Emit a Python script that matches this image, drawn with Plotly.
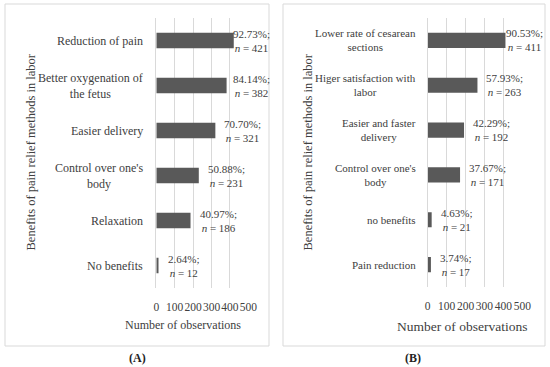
import plotly.graph_objects as go

W, H = 550, 367

# Panel A data (top to bottom)
cats_a = ["Reduction of pain", "Better oxygenation of<br>the fetus", "Easier delivery",
          "Control over one's<br>body", "Relaxation", "No benefits"]
vals_a = [421, 382, 321, 231, 186, 12]
pct_a = ["92.73%", "84.14%", "70.70%", "50.88%", "40.97%", "2.64%"]

# Panel B data (top to bottom)
cats_b = ["Lower rate of cesarean<br>sections", "Higer satisfaction with<br>labor",
          "Easier and faster<br>delivery", "Control over one's<br>body", "no benefits",
          "Pain reduction"]
vals_b = [411, 263, 192, 171, 21, 17]
pct_b = ["90.53%", "57.93%", "42.29%", "37.67%", "4.63%", "3.74%"]

x_ticks = [0, 100, 200, 300, 400, 500]

BAR = "#595959"
TXT = "#404040"
GRID = "#d9d9d9"
FONT = "Liberation Serif"

def px(x):
    return x / W

def py(y):
    return 1 - y / H

fig = go.Figure()
fig.add_trace(go.Bar(x=vals_a, y=cats_a, orientation="h", marker_color=BAR,
                     xaxis="x", yaxis="y", hoverinfo="skip"))
fig.add_trace(go.Bar(x=vals_b, y=cats_b, orientation="h", marker_color=BAR,
                     xaxis="x2", yaxis="y2", hoverinfo="skip"))

xax = dict(range=[0, 500], tickvals=x_ticks, showgrid=True, gridcolor=GRID, gridwidth=1,
           zeroline=False, showline=False, ticks="", ticklabelstandoff=10, tickangle=0,
           automargin=False,
           tickfont=dict(family=FONT, size=11.5, color=TXT), fixedrange=True)
yax = dict(range=[5.5, -0.5], showticklabels=False, showgrid=False, zeroline=False,
           showline=True, linecolor=GRID, linewidth=1, ticks="", fixedrange=True,
           automargin=False)

fig.update_layout(
    template="none",
    width=W, height=H, margin=dict(l=0, r=0, t=0, b=0, autoexpand=False),
    paper_bgcolor="white", plot_bgcolor="white", showlegend=False, bargap=0.66,
    font=dict(family=FONT, color=TXT),
    xaxis=dict(xax, domain=[px(156.3), px(248.3)], anchor="y"),
    yaxis=dict(yax, domain=[py(288), py(18)], anchor="x"),
    xaxis2=dict(xax, domain=[px(427.7), px(522.3)], anchor="y2"),
    yaxis2=dict(yax, domain=[py(287), py(18)], anchor="x2"),
)

# panel frames
for x0, x1 in [(5, 269), (283, 545)]:
    fig.add_shape(type="rect", xref="paper", yref="paper", x0=px(x0), x1=px(x1),
                  y0=py(346), y1=py(4), line=dict(color=GRID, width=1), layer="below")

ann = []
# category labels
for cats, yref, xr, fs in [(cats_a, "y", 145, 12), (cats_b, "y2", 418, 11)]:
    for c in cats:
        ann.append(dict(xref="paper", yref=yref, x=px(xr), y=c, xanchor="right",
                        yanchor="middle", align="center", text=c, showarrow=False,
                        font=dict(family=FONT, size=fs, color=TXT)))
# data labels
for cats, vals, pcts, xref, yref, cap in [(cats_a, vals_a, pct_a, "x", "y", 370),
                                          (cats_b, vals_b, pct_b, "x2", "y2", 366)]:
    for c, v, p in zip(cats, vals, pcts):
        ann.append(dict(xref=xref, yref=yref, x=min(v, cap), y=c, xanchor="left",
                        xshift=7, yanchor="middle", align="center",
                        text=f"{p};<br><i>n</i> = {v}", showarrow=False,
                        font=dict(family=FONT, size=11, color=TXT)))

def centered(x, y, text, size, color=TXT, angle=0):
    return dict(xref="paper", yref="paper", x=px(x), y=py(y), xanchor="center",
                yanchor="middle", text=text, textangle=angle, showarrow=False,
                font=dict(family=FONT, size=size, color=color))

# axis titles
ann.append(centered(182.5, 325, "Number of observations", 12))
ann.append(centered(461.5, 326, "Number of observations", 13.5))
for xx in [30, 307]:
    ann.append(centered(xx, 152.5, "Benefits of pain relief methods in labor", 12.5, angle=-90))
# panel letters
ann.append(centered(137, 358, "<b>(A)</b>", 12, "#222222"))
ann.append(centered(413, 358, "<b>(B)</b>", 12, "#222222"))

fig.update_layout(annotations=ann)
fig.write_html("out.html", config={"displayModeBar": False, "staticPlot": True},
               post_script="document.body.style.margin='0';document.body.style.overflow='hidden';")
